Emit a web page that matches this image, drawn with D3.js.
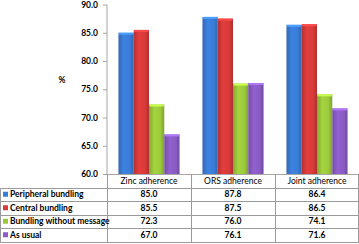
<!DOCTYPE html>
<html>
<head>
<meta charset="utf-8">
<script src="https://cdn.jsdelivr.net/npm/d3@7"></script>
<style>
	body { margin: 0; background: #fff; }
	svg { display: block; font-family: Lato, "Open Sans", sans-serif; }
</style>
</head>
<body>
<svg id="chart" width="359" height="244"></svg>
<script>
var categories = ["Zinc adherence", "ORS adherence", "Joint adherence"];
var seriesNames = ["Peripheral bundling", "Central bundling", "Bundling without message", "As usual"];
var seriesColors = ["#3a7cd6", "#d83a3a", "#9cc93c", "#8a5cc4"];
var peripheral = [85.0, 87.8, 86.4];
var central = [85.5, 87.5, 86.5];
var withoutMessage = [72.3, 76.0, 74.1];
var asUsual = [67.0, 76.1, 71.6];
var yTicks = [60, 65, 70, 75, 80, 85, 90];

var seriesValues = [peripheral, central, withoutMessage, asUsual];

var svg = d3.select("#chart"),
	width = +svg.attr("width"),
	margin = { top: 4.5, left: 107, right: 0, bottom: 70 },
	plotBottom = 174,
	rowH = 13.5;

var x = d3.scaleBand()
	.domain(categories)
	.range([margin.left, width - margin.right]);
var xInner = d3.scaleBand()
	.domain(seriesNames)
	.range([0, x.bandwidth()])
	.paddingOuter(0.75);
var y = d3.scaleLinear()
	.domain([60, 90])
	.range([plotBottom, margin.top]);

// gradients to mimic the shaded bars
var defs = svg.append("defs");
seriesColors.forEach(function(c, i) {
	var g = defs.append("linearGradient").attr("id", "grad" + i)
		.attr("x1", "0").attr("x2", "1").attr("y1", "0").attr("y2", "0");
	var base = d3.color(c);
	g.append("stop").attr("offset", "0%").attr("stop-color", base.darker(0.5));
	g.append("stop").attr("offset", "35%").attr("stop-color", base.brighter(0.15));
	g.append("stop").attr("offset", "75%").attr("stop-color", base);
	g.append("stop").attr("offset", "100%").attr("stop-color", base.darker(0.6));
});

// y axis
var yAxis = d3.axisLeft(y)
	.tickValues(yTicks)
	.tickSize(4)
	.tickPadding(5)
	.tickFormat(d3.format(".1f"));
var gy = svg.append("g")
	.attr("transform", "translate(" + margin.left + ",0)")
	.call(yAxis);
gy.select(".domain").attr("stroke", "#a6a6a6").attr("d", "M0," + margin.top + "V" + plotBottom);
gy.selectAll(".tick line").attr("stroke", "#a6a6a6");
gy.selectAll(".tick text")
	.attr("font-family", "Lato, sans-serif")
	.attr("font-weight", "bold")
	.attr("font-size", "8.5px")
	.attr("fill", "#000");

svg.append("text")
	.attr("x", 62).attr("y", 83)
	.attr("text-anchor", "middle")
	.attr("font-weight", "bold")
	.attr("font-size", "8.5px")
	.text("%");

// bars
var groups = svg.append("g").selectAll("g")
	.data(categories)
	.enter().append("g")
	.attr("transform", function(d) { return "translate(" + x(d) + ",0)"; });

groups.selectAll("rect")
	.data(function(d, ci) {
		return seriesNames.map(function(s, si) {
			return { series: s, idx: si, value: seriesValues[si][ci] };
		});
	})
	.enter().append("rect")
	.attr("x", function(d) { return xInner(d.series); })
	.attr("y", function(d) { return y(d.value); })
	.attr("width", xInner.bandwidth())
	.attr("height", function(d) { return plotBottom - y(d.value); })
	.attr("fill", function(d) { return "url(#grad" + d.idx + ")"; });

groups.selectAll("rect.cap")
	.data(function(d, ci) {
		return seriesNames.map(function(s, si) {
			return { series: s, idx: si, value: seriesValues[si][ci] };
		});
	})
	.enter().append("rect")
	.attr("class", "cap")
	.attr("x", function(d) { return xInner(d.series) + 0.5; })
	.attr("y", function(d) { return y(d.value); })
	.attr("width", xInner.bandwidth() - 1)
	.attr("height", 2)
	.attr("fill", function(d) { return d3.color(seriesColors[d.idx]).brighter(0.7); });

// data table
var table = svg.append("g").attr("stroke", "#9a9a9a").attr("stroke-width", 1).attr("fill", "none");
var tableRight = width - 0.5;
var tableBottom = plotBottom + rowH * (seriesNames.length + 1);
// header row lines
table.append("line").attr("x1", margin.left).attr("x2", tableRight)
	.attr("y1", plotBottom + 0.5).attr("y2", plotBottom + 0.5).attr("stroke", "#a6a6a6");
for (var r = 1; r <= seriesNames.length + 1; ++r) {
	var yy = Math.round(plotBottom + r * rowH) + 0.5;
	table.append("line").attr("x1", 0.5).attr("x2", tableRight).attr("y1", yy).attr("y2", yy);
}
table.append("line").attr("x1", 0.5).attr("x2", 0.5)
	.attr("y1", Math.round(plotBottom + rowH) + 0.5).attr("y2", Math.round(tableBottom) + 0.5);
categories.forEach(function(c) {
	var xx = Math.round(x(c)) + 0.5;
	table.append("line").attr("x1", xx).attr("x2", xx)
		.attr("y1", plotBottom).attr("y2", Math.round(tableBottom) + 0.5);
});
table.append("line").attr("x1", tableRight).attr("x2", tableRight)
	.attr("y1", plotBottom).attr("y2", Math.round(tableBottom) + 0.5);

// header texts
svg.append("g").selectAll("text")
	.data(categories)
	.enter().append("text")
	.attr("x", function(d) { return x(d) + x.bandwidth() / 2; })
	.attr("y", plotBottom + rowH / 2 + 3)
	.attr("text-anchor", "middle")
	.attr("font-size", "8.5px")
	.text(function(d) { return d; });

// legend column + values
seriesNames.forEach(function(s, si) {
	var rowTop = plotBottom + rowH * (si + 1);
	var cy = rowTop + rowH / 2;
	svg.append("rect")
		.attr("x", 3).attr("y", cy - 2.5)
		.attr("width", 5).attr("height", 5)
		.attr("fill", seriesColors[si]);
	svg.append("text")
		.attr("x", 10).attr("y", cy + 3)
		.attr("font-weight", "bold")
		.attr("font-size", "8.5px")
		.text(s);
	categories.forEach(function(c, ci) {
		svg.append("text")
			.attr("x", x(c) + x.bandwidth() / 2)
			.attr("y", cy + 3)
			.attr("text-anchor", "middle")
			.attr("font-weight", "bold")
			.attr("font-size", "8.5px")
			.text(d3.format(".1f")(seriesValues[si][ci]));
	});
});
</script>
</body>
</html>
